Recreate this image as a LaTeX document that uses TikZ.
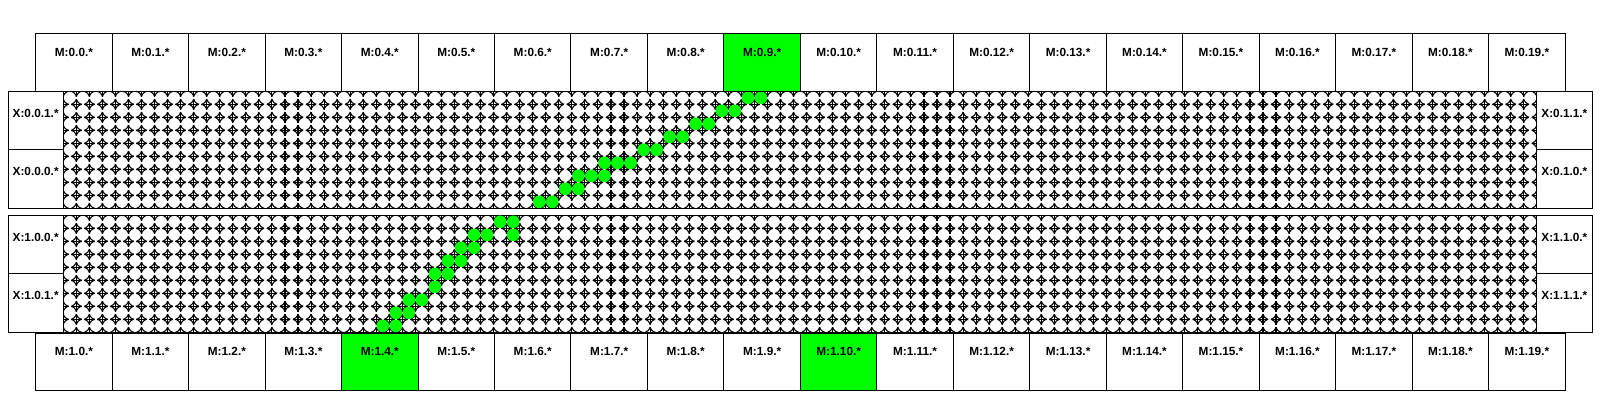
\documentclass[tikz,border=0pt]{standalone}
\usepackage{fontspec}
\setmainfont{Liberation Sans}
\usepackage{xcolor}
\usepackage{tikz}
\usetikzlibrary{positioning}
\definecolor{lit}{RGB}{0,255,0}
\tikzset{
	mbox/.style={draw,line width=1pt,minimum width=76.47pt,minimum height=57.5pt,inner sep=0pt,outer sep=0pt},
	xbox/.style={draw,line width=1pt,minimum width=55.3pt,minimum height=58.5pt,inner sep=0pt,outer sep=0pt},
	boxtext/.style={font=\fontsize{11.8}{12}\selectfont\bfseries,inner sep=0pt},
	cell/.style={circle,draw,line width=1.1pt,dash pattern=on 7.57pt off 2.8pt,dash phase=8.97pt,fill=white,minimum size=13.2pt,inner sep=0pt},
	cellon/.style={circle,fill=lit,minimum size=12.7pt,inner sep=0pt},
	wire/.style={line width=1.1pt},
	wirev/.style={wire,dash pattern=on 10.5pt off 2.5pt,dash phase=5.25pt},
	wireh/.style={wire,dash pattern=on 10.5pt off 2.54pt,dash phase=5.25pt},
}
\begin{document}
\begin{tikzpicture}[x=1pt,y=-1pt]
	\useasboundingbox (0,0) rectangle (1600,400);
	\fill[white] (0,0) rectangle (1600,400);
	% two crossbars
	\foreach \b/\top in {0/91.3,1/215.3}{
		\begin{scope}[shift={(63.3,\top)}]
			\foreach \r in {0,...,8}
				\foreach \c in {0,...,112}
					\node[cell] (b\b r\r c\c) at ({(\c+.5)*13.04},{(\r+.5)*13}) {};
			\foreach \c in {0,...,113}
				\draw[wirev] ({\c*13.04},0) -- ({\c*13.04},117);
			\foreach \r in {0,...,9}
				\draw[wireh] (0,{\r*13}) -- (1473.4,{\r*13});
			\draw[line width=1pt] (0,0) rectangle (1473.4,117);
		\end{scope}
	}
	\begin{scope}[shift={(63.3,91.3)}]
		\foreach \c/\r in {52/0,53/0,50/1,51/1,48/2,49/2,46/3,47/3,44/4,45/4,41/5,42/5,43/5,39/6,40/6,41/6,38/7,39/7,36/8,37/8}
			\node[cellon] (ont\r c\c) at ({(\c+.5)*13.04},{(\r+.5)*13}) {};
	\end{scope}
	\begin{scope}[shift={(63.3,215.3)}]
		\foreach \c/\r in {33/0,34/0,31/1,32/1,34/1,30/2,31/2,29/3,30/3,28/4,29/4,28/5,26/6,27/6,25/7,26/7,24/8,25/8}
			\node[cellon] (onb\r c\c) at ({(\c+.5)*13.04},{(\r+.5)*13}) {};
	\end{scope}
	% memory boxes
	\foreach \i in {0,...,19}{
		\node[mbox] (mt\i) at ({35.7+(\i+.5)*76.47},62.55) {};
		\node[boxtext] (mtt\i) at ([yshift=10.5pt]mt\i.center) {M:0.\i.*};
		\node[mbox] (mb\i) at ({35.7+(\i+.5)*76.47},362.05) {};
		\node[boxtext] (mbt\i) at ([yshift=10.5pt]mb\i.center) {M:1.\i.*};
	}
	\node[mbox,fill=lit] (mt9) at (mt9) {};
	\node[boxtext] (mtt9) at ([yshift=10.5pt]mt9.center) {M:0.9.*};
	\node[mbox,fill=lit] (mb4) at (mb4) {};
	\node[boxtext] (mbt4) at ([yshift=10.5pt]mb4.center) {M:1.4.*};
	\node[mbox,fill=lit] (mb10) at (mb10) {};
	\node[boxtext] (mbt10) at ([yshift=10.5pt]mb10.center) {M:1.10.*};
	% side boxes
	\node[xbox] (xa) at (35.65,120.55) {};
	\node[xbox,below=0pt of xa] (xb) {};
	\node[xbox] (xc) at (35.65,244.55) {};
	\node[xbox,below=0pt of xc] (xd) {};
	\node[xbox] (ya) at (1564.35,120.55) {};
	\node[xbox,below=0pt of ya] (yb) {};
	\node[xbox] (yc) at (1564.35,244.55) {};
	\node[xbox,below=0pt of yc] (yd) {};
	\foreach \n/\t in {xa/X:0.0.1.*,xb/X:0.0.0.*,xc/X:1.0.0.*,xd/X:1.0.1.*,ya/X:0.1.1.*,yb/X:0.1.0.*,yc/X:1.1.0.*,yd/X:1.1.1.*}
		\node[boxtext] (t\n) at ([yshift=7.5pt]\n.center) {\t};
\end{tikzpicture}
\end{document}
